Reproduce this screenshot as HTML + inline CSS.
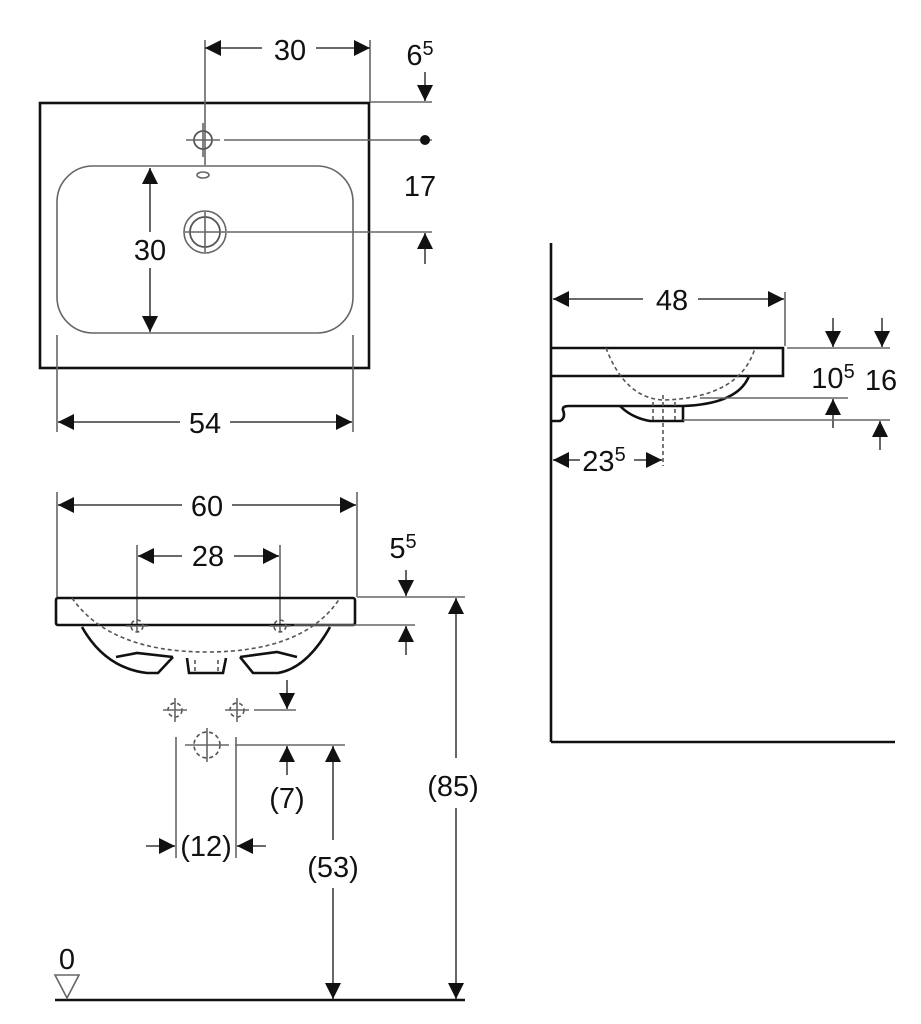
<!DOCTYPE html>
<html><head><meta charset="utf-8"><style>
html,body{margin:0;padding:0;background:#fff;}
svg{display:block;}
text{font-family:"Liberation Sans",sans-serif;font-size:29px;fill:#111;text-anchor:middle;}
.t{stroke:#666;stroke-width:1.6;fill:none;}
.k{stroke:#111;stroke-width:2.6;fill:none;}
.m{stroke:#555;stroke-width:1.8;fill:none;}
.d{stroke:#555;stroke-width:1.6;fill:none;stroke-dasharray:4 3;}
</style></head><body>
<svg width="921" height="1024" viewBox="0 0 921 1024" xmlns="http://www.w3.org/2000/svg">
<defs>
<marker id="a" viewBox="0 0 10 10" refX="10" refY="5" markerWidth="22" markerHeight="16" markerUnits="userSpaceOnUse" orient="auto-start-reverse"><path d="M0,0 L10,5 L0,10 z" fill="#111"/></marker>
</defs>

<!-- TOP VIEW -->
<rect x="40" y="103" width="329" height="265" class="k"/>
<rect x="57" y="166" width="296" height="167" rx="36" class="t"/>
<line x1="205" y1="40" x2="205" y2="165" class="t"/>
<line x1="370" y1="40" x2="370" y2="102" class="t"/>
<line x1="205" y1="48" x2="262" y2="48" class="m" marker-start="url(#a)"/>
<line x1="316" y1="48" x2="370" y2="48" class="m" marker-end="url(#a)"/>
<text x="290" y="60">30</text>
<text x="420" y="65">6<tspan dy="-10" font-size="20">5</tspan></text>
<line x1="370" y1="102" x2="432" y2="102" class="t"/>
<line x1="425" y1="72" x2="425" y2="101" class="m" marker-end="url(#a)"/>
<circle cx="203" cy="140" r="9" class="m"/>
<line x1="186" y1="140" x2="220" y2="140" class="t"/>
<line x1="203" y1="123" x2="203" y2="157" class="t"/>
<line x1="224" y1="140" x2="432" y2="140" class="t"/>
<circle cx="425" cy="140" r="5" fill="#111"/>
<ellipse cx="203" cy="175" rx="6" ry="3" class="t"/>
<circle cx="205" cy="232" r="21" class="t"/>
<circle cx="205" cy="232" r="15" class="m"/>
<line x1="185" y1="232" x2="225" y2="232" class="t"/>
<line x1="205" y1="212" x2="205" y2="252" class="t"/>
<line x1="227" y1="232" x2="432" y2="232" class="t"/>
<text x="420" y="196">17</text>
<line x1="425" y1="264" x2="425" y2="233" class="m" marker-end="url(#a)"/>
<line x1="150" y1="168" x2="150" y2="232" class="m" marker-start="url(#a)"/>
<line x1="150" y1="268" x2="150" y2="332" class="m" marker-end="url(#a)"/>
<text x="150" y="260">30</text>
<line x1="57" y1="335" x2="57" y2="432" class="t"/>
<line x1="353" y1="335" x2="353" y2="432" class="t"/>
<line x1="58" y1="422" x2="180" y2="422" class="m" marker-start="url(#a)"/>
<line x1="230" y1="422" x2="352" y2="422" class="m" marker-end="url(#a)"/>
<text x="205" y="433">54</text>

<!-- FRONT VIEW -->
<line x1="57" y1="492" x2="57" y2="597" class="t"/>
<line x1="357" y1="492" x2="357" y2="597" class="t"/>
<line x1="58" y1="505" x2="182" y2="505" class="m" marker-start="url(#a)"/>
<line x1="232" y1="505" x2="356" y2="505" class="m" marker-end="url(#a)"/>
<text x="207" y="516">60</text>
<line x1="137" y1="545" x2="137" y2="632" class="t"/>
<line x1="280" y1="545" x2="280" y2="632" class="t"/>
<line x1="138" y1="556" x2="182" y2="556" class="m" marker-start="url(#a)"/>
<line x1="234" y1="556" x2="279" y2="556" class="m" marker-end="url(#a)"/>
<text x="208" y="566">28</text>
<rect x="56" y="598" width="299" height="27" rx="2" class="k"/>
<path d="M82,627 Q105,668 147,673 L158,673 L173,657" class="k"/>
<path d="M116,657 L137,653 L173,657" class="k" stroke-width="2"/>
<path d="M330,627 Q307,668 278,673 L253,673 L240,657" class="k"/>
<path d="M297,657 L277,652 L240,657" class="k" stroke-width="2"/>
<path d="M187,658 L189,673 L223,673 L226,658" class="k"/>
<path d="M72,598 Q110,652 207,652 Q305,652 340,598" class="d"/>
<line x1="195" y1="660" x2="195" y2="672" class="d"/><line x1="218" y1="660" x2="218" y2="672" class="d"/>
<circle cx="137" cy="626" r="6" class="d"/><line x1="126" y1="626" x2="148" y2="626" class="t"/>
<circle cx="280" cy="626" r="6" class="d"/><line x1="269" y1="626" x2="291" y2="626" class="t"/>
<text x="403" y="558">5<tspan dy="-10" font-size="20">5</tspan></text>
<line x1="357" y1="597" x2="465" y2="597" class="t"/>
<line x1="406" y1="570" x2="406" y2="596" class="m" marker-end="url(#a)"/>
<line x1="294" y1="625" x2="415" y2="625" class="t"/>
<line x1="406" y1="655" x2="406" y2="626" class="m" marker-end="url(#a)"/>
<circle cx="175" cy="710" r="7" class="d"/><line x1="163" y1="710" x2="187" y2="710" class="t"/><line x1="175" y1="698" x2="175" y2="722" class="t"/>
<circle cx="237" cy="710" r="7" class="d"/><line x1="225" y1="710" x2="249" y2="710" class="t"/><line x1="237" y1="698" x2="237" y2="722" class="t"/>
<line x1="254" y1="710" x2="296" y2="710" class="t"/>
<line x1="287" y1="680" x2="287" y2="709" class="m" marker-end="url(#a)"/>
<circle cx="207" cy="745" r="13" class="d"/>
<line x1="185" y1="745" x2="229" y2="745" class="t"/>
<line x1="207" y1="728" x2="207" y2="762" class="t"/>
<line x1="235" y1="745" x2="345" y2="745" class="t"/>
<line x1="176" y1="737" x2="176" y2="858" class="t"/>
<line x1="236" y1="737" x2="236" y2="858" class="t"/>
<line x1="287" y1="775" x2="287" y2="746" class="m" marker-end="url(#a)"/>
<text x="287" y="808">(7)</text>
<line x1="146" y1="846" x2="175" y2="846" class="m" marker-end="url(#a)"/>
<line x1="266" y1="846" x2="237" y2="846" class="m" marker-end="url(#a)"/>
<text x="206" y="856">(12)</text>
<line x1="333" y1="746" x2="333" y2="840" class="m" marker-start="url(#a)"/>
<line x1="333" y1="888" x2="333" y2="999" class="m" marker-end="url(#a)"/>
<text x="333" y="877">(53)</text>
<line x1="456" y1="598" x2="456" y2="758" class="m" marker-start="url(#a)"/>
<line x1="456" y1="808" x2="456" y2="999" class="m" marker-end="url(#a)"/>
<text x="453" y="796">(85)</text>
<line x1="55" y1="1000" x2="465" y2="1000" class="k"/>
<path d="M55,975 L79,975 L67,998 z" class="t" stroke="#333"/>
<text x="67" y="969">0</text>

<!-- SIDE VIEW -->
<line x1="551" y1="243" x2="551" y2="742" class="k"/>
<line x1="551" y1="742" x2="895" y2="742" class="k"/>
<line x1="785" y1="292" x2="785" y2="346" class="t"/>
<line x1="553" y1="299" x2="643" y2="299" class="m" marker-start="url(#a)"/>
<line x1="698" y1="299" x2="784" y2="299" class="m" marker-end="url(#a)"/>
<text x="672" y="310">48</text>
<path d="M551,348 L783,348 L783,376 L551,376" class="k"/>
<path d="M749,376 Q738,404 683,406" class="k"/>
<path d="M551,421 L560,421 Q566,418 563,410 Q562,406 569,406 L683,406" class="k"/>
<path d="M620,406 Q632,418 650,421 L683,421 L683,406" class="k"/>
<path d="M606,348 Q625,398 663,400 Q740,398 755,348" class="d"/>
<line x1="653" y1="402" x2="653" y2="420" class="d"/>
<line x1="675" y1="402" x2="675" y2="420" class="d"/>
<line x1="663" y1="395" x2="663" y2="466" class="d"/>
<line x1="787" y1="348" x2="890" y2="348" class="t"/>
<line x1="833" y1="318" x2="833" y2="347" class="m" marker-end="url(#a)"/>
<line x1="882" y1="318" x2="882" y2="347" class="m" marker-end="url(#a)"/>
<text x="833" y="388">10<tspan dy="-10" font-size="20">5</tspan></text>
<text x="881" y="390">16</text>
<line x1="700" y1="398" x2="848" y2="398" class="t"/>
<line x1="833" y1="428" x2="833" y2="399" class="m" marker-end="url(#a)"/>
<line x1="683" y1="420" x2="890" y2="420" class="t"/>
<line x1="880" y1="450" x2="880" y2="421" class="m" marker-end="url(#a)"/>
<line x1="553" y1="460" x2="580" y2="460" class="m" marker-start="url(#a)"/>
<line x1="634" y1="460" x2="662" y2="460" class="m" marker-end="url(#a)"/>
<text x="604" y="471">23<tspan dy="-10" font-size="20">5</tspan></text>
</svg>
</body></html>
